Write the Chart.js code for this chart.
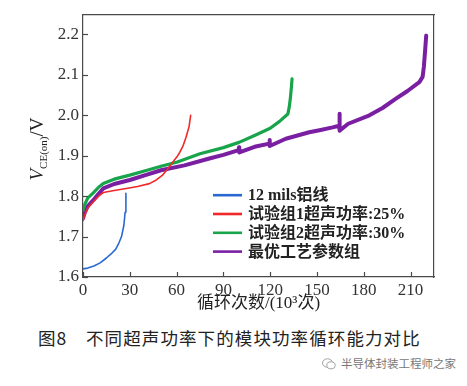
<!DOCTYPE html>
<html><head><meta charset="utf-8">
<script src="https://cdn.jsdelivr.net/npm/chart.js@4.4.0/dist/chart.umd.min.js"></script>
<style>
html,body{margin:0;padding:0;background:#fff;}
#wrap{position:relative;width:467px;height:386px;overflow:hidden;background:#fff;}
#c{position:absolute;left:0;top:0;}
#cap{position:absolute;left:38px;top:328px;font-family:"Noto Sans CJK SC";font-size:17.5px;line-height:20px;color:#222;white-space:nowrap;letter-spacing:1.1px;}
#wm{position:absolute;left:322px;top:356px;font-family:"Noto Sans CJK SC";font-size:11.5px;line-height:14px;color:#777;white-space:nowrap;}
#wm svg{display:inline-block;vertical-align:-2px;margin-right:5px;}
</style></head><body>
<div id="wrap">
<canvas id="c" width="467" height="320"></canvas>
<div id="cap">图8　不同超声功率下的模块功率循环能力对比</div>
<div id="wm"><svg width="14" height="12" viewBox="0 0 14 12"><ellipse cx="5.5" cy="5" rx="5" ry="4.2" fill="none" stroke="#999" stroke-width="0.9"/><ellipse cx="9" cy="7.3" rx="4.2" ry="3.5" fill="#fff" stroke="#999" stroke-width="0.9"/></svg>半导体封装工程师之家</div>
</div>
<script>
// ---- data ----
const seriesLabels = ['12 mils铝线', '试验组1超声功率:25%', '试验组2超声功率:30%', '最优工艺参数组'];
const xTicks = [0, 30, 60, 90, 120, 150, 180, 210];
const yTicks = [1.6, 1.7, 1.8, 1.9, 2.0, 2.1, 2.2];

const blueX = [0, 3, 7, 11, 15, 18, 21, 23, 24.7, 26.2, 27, 27.5];
const blueY = [1.620, 1.622, 1.627, 1.635, 1.647, 1.657, 1.669, 1.684, 1.700, 1.728, 1.760, 1.807];

const redX = [0, 1, 3, 6.6, 10, 13, 20, 27.7, 35, 42.6, 47, 51, 54, 57.5, 60, 62, 64.2, 66, 68, 69];
const redY = [1.740, 1.752, 1.770, 1.786, 1.800, 1.809, 1.814, 1.819, 1.824, 1.831, 1.840, 1.852, 1.866, 1.884, 1.896, 1.908, 1.925, 1.945, 1.972, 2.000];

const greenX = [0, 1, 3, 6.6, 10, 13, 20, 30, 40, 50, 60, 75, 90, 100, 110, 120, 126, 131.3, 132.2, 133, 133.6, 134];
const greenY = [1.765, 1.778, 1.795, 1.808, 1.822, 1.831, 1.842, 1.852, 1.863, 1.874, 1.884, 1.905, 1.920, 1.933, 1.950, 1.968, 1.985, 2.003, 2.020, 2.045, 2.070, 2.090];

const purpleX = [0, 1, 3, 6.6, 10, 13, 20, 30, 40, 50, 65, 81, 90, 99.8, 100, 100.2, 110, 119.4, 119.6, 119.8, 130, 145, 151.6, 160, 164.2, 164.4, 164.6, 170, 183.6, 192, 200.6, 208, 215.6, 217.7, 218.5, 219.3, 220];
const purpleY = [1.745, 1.758, 1.775, 1.790, 1.806, 1.819, 1.830, 1.840, 1.852, 1.864, 1.876, 1.893, 1.902, 1.914, 1.921, 1.908, 1.922, 1.930, 1.939, 1.924, 1.942, 1.958, 1.963, 1.970, 1.974, 2.004, 1.962, 1.979, 2.000, 2.018, 2.041, 2.060, 2.082, 2.095, 2.120, 2.160, 2.197];

const pts = (xs, ys) => xs.map((x, i) => ({x: x, y: ys[i]}));

const serif = '"Liberation Serif", "Noto Sans CJK SC", serif';
const frameColor = '#4a4a4a';

const decor = {
  id: 'decor',
  afterDatasetsDraw(chart) {
    const ctx = chart.ctx, a = chart.chartArea, xs = chart.scales.x, ys = chart.scales.y;
    ctx.save();
    ctx.strokeStyle = frameColor; ctx.lineWidth = 1.2;
    const B = a.bottom, L = a.left;
    xs.ticks.forEach(t => {
      const px = Math.round(xs.getPixelForValue(t.value)) + 0.5;
      ctx.beginPath(); ctx.moveTo(px, B); ctx.lineTo(px, B - 5); ctx.stroke();
    });
    ys.ticks.forEach(t => {
      const py = Math.round(ys.getPixelForValue(t.value)) + 0.5;
      ctx.beginPath(); ctx.moveTo(L, py); ctx.lineTo(L + 5, py); ctx.stroke();
    });
    ctx.restore();
  },
  afterDraw(chart) {
    const ctx = chart.ctx, a = chart.chartArea;
    ctx.save();
    // legend
    const lx = a.left + 130, ly0 = a.top + 181, dy = 18.8;
    chart.data.datasets.forEach((ds, i) => {
      const yy = ly0 + i * dy;
      ctx.strokeStyle = ds.borderColor; ctx.lineWidth = 2.6;
      ctx.beginPath(); ctx.moveTo(lx, yy); ctx.lineTo(lx + 29, yy); ctx.stroke();
      ctx.fillStyle = '#222';
      ctx.font = 'bold 16px ' + serif;
      ctx.textBaseline = 'middle'; ctx.textAlign = 'left';
      ctx.fillText(ds.label, lx + 35, yy + 1);
    });
    // y axis title: V_CE(on)/V
    ctx.translate(43, 149);
    ctx.rotate(-Math.PI / 2);
    ctx.fillStyle = '#222';
    ctx.textBaseline = 'alphabetic';
    const f1 = 'italic 19px ' + serif, f2 = '11px ' + serif, f3 = '19px ' + serif;
    ctx.font = f1; const w1 = ctx.measureText('V').width;
    ctx.font = f2; const w2 = ctx.measureText('CE(on)').width;
    ctx.font = f3; const w3 = ctx.measureText('/V').width;
    let x0 = -(w1 + w2 + w3) / 2;
    ctx.font = f1; ctx.fillText('V', x0, 0); x0 += w1;
    ctx.font = f2; ctx.fillText('CE(on)', x0, 4); x0 += w2;
    ctx.font = f3; ctx.fillText('/V', x0, 0);
    ctx.restore();
  }
};

const borderOpt = {display: true, color: frameColor, width: 1.2};

new Chart(document.getElementById('c'), {
  type: 'line',
  data: {
    datasets: [
      {label: seriesLabels[0], data: pts(blueX, blueY), borderColor: '#2a68d2', borderWidth: 1.6},
      {label: seriesLabels[1], data: pts(redX, redY), borderColor: '#f0282a', borderWidth: 1.6},
      {label: seriesLabels[2], data: pts(greenX, greenY), borderColor: '#18a44a', borderWidth: 3.2},
      {label: seriesLabels[3], data: pts(purpleX, purpleY), borderColor: '#7b1fa2', borderWidth: 4}
    ]
  },
  options: {
    responsive: false,
    animation: false,
    devicePixelRatio: 1,
    elements: {point: {radius: 0}, line: {tension: 0, borderCapStyle: 'round', borderJoinStyle: 'round'}},
    layout: {padding: {top: 14, right: 33, left: 0, bottom: 0}},
    plugins: {legend: {display: false}, tooltip: {enabled: false}},
    scales: {
      x: {
        type: 'linear', position: 'bottom', min: 0, max: 225,
        grid: {display: false, drawTicks: false, tickLength: 0}, border: borderOpt,
        afterBuildTicks: s => { s.ticks = xTicks.map(v => ({value: v})); },
        afterFit: s => { s.height = 43; },
        ticks: {color: '#333', font: {family: serif, size: 17}, padding: 3, maxRotation: 0, autoSkip: false, callback: v => String(v)},
        title: {display: true, text: '循环次数/(10³次)', color: '#222', font: {family: serif, size: 17}, padding: {top: 0, bottom: 6}}
      },
      xTop: {
        type: 'linear', position: 'top', min: 0, max: 225,
        grid: {display: false, drawTicks: false, tickLength: 0}, border: borderOpt,
        ticks: {display: false},
        afterFit: s => { s.height = 0; }
      },
      y: {
        type: 'linear', position: 'left', min: 1.6, max: 2.25,
        grid: {display: false, drawTicks: false, tickLength: 0}, border: borderOpt,
        afterBuildTicks: s => { s.ticks = yTicks.map(v => ({value: v})); },
        afterFit: s => { s.width = 83; },
        ticks: {color: '#333', font: {family: serif, size: 17}, padding: 4, autoSkip: false, callback: v => Number(v).toFixed(1)}
      },
      yRight: {
        type: 'linear', position: 'right', min: 1.6, max: 2.25,
        grid: {display: false, drawTicks: false, tickLength: 0}, border: borderOpt,
        ticks: {display: false},
        afterFit: s => { s.width = 0; }
      }
    }
  },
  plugins: [decor]
});
</script>
</body></html>
